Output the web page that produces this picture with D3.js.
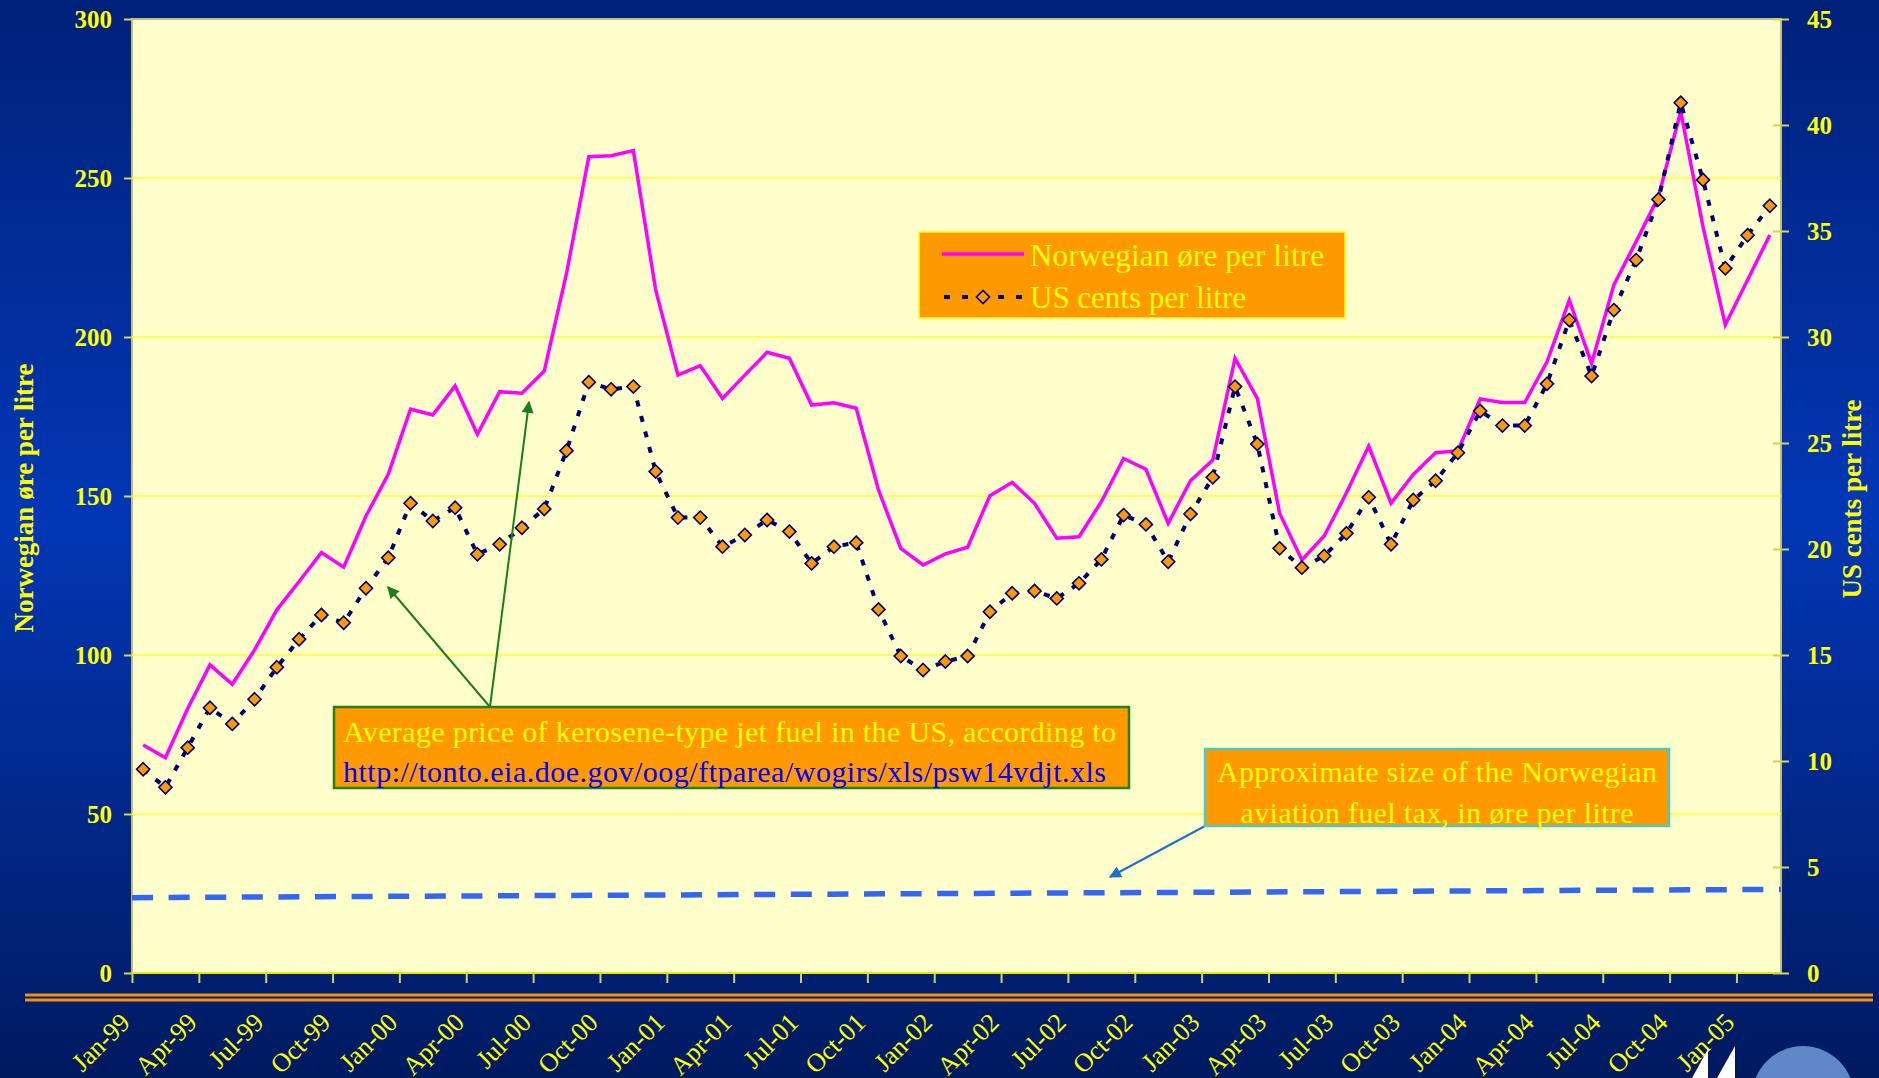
<!DOCTYPE html>
<meta charset = "utf-8">
<html>
  <head>
    <title>Jet fuel prices</title>
    <style>
      body { margin: 0; background: #001b62; }
      svg { display: block; }
      text { font-family: "Liberation Serif", "Times New Roman", serif; }
    </style>
  </head>
  <body>
    <script src="https://d3js.org/d3.v7.min.js"></script>
  <script>

  /*
      Data (monthly, Jan-99 .. Feb-05)
  */
  var months = [
    "Jan-99","Feb-99","Mar-99","Apr-99","May-99","Jun-99","Jul-99","Aug-99","Sep-99","Oct-99","Nov-99","Dec-99",
    "Jan-00","Feb-00","Mar-00","Apr-00","May-00","Jun-00","Jul-00","Aug-00","Sep-00","Oct-00","Nov-00","Dec-00",
    "Jan-01","Feb-01","Mar-01","Apr-01","May-01","Jun-01","Jul-01","Aug-01","Sep-01","Oct-01","Nov-01","Dec-01",
    "Jan-02","Feb-02","Mar-02","Apr-02","May-02","Jun-02","Jul-02","Aug-02","Sep-02","Oct-02","Nov-02","Dec-02",
    "Jan-03","Feb-03","Mar-03","Apr-03","May-03","Jun-03","Jul-03","Aug-03","Sep-03","Oct-03","Nov-03","Dec-03",
    "Jan-04","Feb-04","Mar-04","Apr-04","May-04","Jun-04","Jul-04","Aug-04","Sep-04","Oct-04","Nov-04","Dec-04",
    "Jan-05","Feb-05"];

  // Norwegian øre per litre (left axis)
  var norwegian = [
    71.7, 67.7, 83.2, 96.9, 90.8, 101.6, 114.2, 123.1, 132.2, 127.6, 143.7, 156.8,
    177.3, 175.5, 184.6, 169.4, 182.8, 182.3, 189.3, 220.0, 256.7, 257.0, 258.6, 214.8,
    188.0, 191.0, 180.7, 188.0, 195.2, 193.3, 178.6, 179.3, 177.6, 151.9, 133.5, 128.3,
    131.8, 133.9, 150.1, 154.3, 147.7, 136.7, 137.2, 148.2, 161.8, 158.4, 141.4, 154.8,
    161.3, 193.3, 180.7, 144.6, 129.9, 137.4, 151.0, 165.7, 147.7, 156.8, 163.6, 164.2,
    180.5, 179.4, 179.4, 192.2, 211.6, 191.7, 216.4, 230.0, 244.1, 270.9, 234.7, 203.8,
    217.9, 232.1];

  // US cents per litre (right axis)
  var usCents = [
    9.61, 8.76, 10.63, 12.51, 11.75, 12.91, 14.42, 15.74, 16.89, 16.52, 18.15, 19.59,
    22.16, 21.32, 21.95, 19.75, 20.22, 21.00, 21.89, 24.64, 27.87, 27.53, 27.66, 23.65,
    21.48, 21.48, 20.11, 20.66, 21.37, 20.82, 19.32, 20.11, 20.30, 17.15, 14.95, 14.29,
    14.69, 14.95, 17.04, 17.91, 18.02, 17.67, 18.38, 19.51, 21.60, 21.16, 19.40, 21.65,
    23.38, 27.66, 24.95, 20.03, 19.12, 19.67, 20.74, 22.44, 20.22, 22.31, 23.22, 24.54,
    26.51, 25.82, 25.82, 27.79, 30.80, 28.16, 31.27, 33.63, 36.49, 41.05, 37.41, 33.24,
    34.80, 36.19];

  // approximate Norwegian aviation fuel tax, øre per litre (start / end of period)
  var taxEnds = [23.7, 26.3];

  var leftTicks = [0, 50, 100, 150, 200, 250, 300];
  var rightTicks = [0, 5, 10, 15, 20, 25, 30, 35, 40, 45];
  var tickLabels = ["Jan-99","Apr-99","Jul-99","Oct-99","Jan-00","Apr-00","Jul-00","Oct-00",
    "Jan-01","Apr-01","Jul-01","Oct-01","Jan-02","Apr-02","Jul-02","Oct-02","Jan-03","Apr-03",
    "Jul-03","Oct-03","Jan-04","Apr-04","Jul-04","Oct-04","Jan-05"];

  var width = 1879, height = 1078;
  var pLeft = 132, pRight = 1781, pTop = 19, pBottom = 973;

  var svg = d3.select("body").append("svg")
      .attr("width", width)
      .attr("height", height);

  var defs = svg.append("defs");
  var bg = defs.append("linearGradient")
      .attr("id", "bg")
      .attr("x1", "0%").attr("y1", "0%")
      .attr("x2", "0%").attr("y2", "100%");
  bg.append("stop").attr("offset", "0%").attr("stop-color", "#00217a");
  bg.append("stop").attr("offset", "48%").attr("stop-color", "#0337b6");
  bg.append("stop").attr("offset", "100%").attr("stop-color", "#001a60");

  function arrowMarker(id, color) {
    defs.append("marker")
        .attr("id", id)
        .attr("viewBox", "0 0 10 10")
        .attr("refX", 9).attr("refY", 5)
        .attr("markerUnits", "userSpaceOnUse")
        .attr("orient", "auto")
        .attr("markerWidth", 16).attr("markerHeight", 12)
      .append("path")
        .attr("d", "M0,0 L10,5 L0,10 Z")
        .attr("fill", color);
  }
  arrowMarker("arrowGreen", "#1c7d1c");
  arrowMarker("arrowBlue", "#1a72cc");

  svg.append("rect")
      .attr("width", width).attr("height", height)
      .attr("fill", "url(#bg)");

  /*
      Scales
  */
  var x = d3.scaleBand().domain(months).range([pLeft, pRight]);
  var xi = d3.scaleLinear().domain([0, months.length]).range([pLeft, pRight]);
  var yL = d3.scaleLinear().domain([0, 300]).range([pBottom, pTop]);
  var yR = d3.scaleLinear().domain([0, 45]).range([pBottom, pTop]);
  function cx(i) { return x(months[i]) + x.bandwidth() / 2; }

  // plot area
  svg.append("rect")
      .attr("x", pLeft).attr("y", pTop)
      .attr("width", pRight - pLeft).attr("height", pBottom - pTop)
      .attr("fill", "#ffffcc")
      .attr("stroke", "#bdbd86")
      .attr("stroke-width", 2);

  // gridlines
  svg.append("g").selectAll("line")
      .data(leftTicks.filter(function(d){ return d > 0 && d < 300; }))
    .enter().append("line")
      .attr("x1", pLeft).attr("x2", pRight)
      .attr("y1", function(d){ return yL(d); })
      .attr("y2", function(d){ return yL(d); })
      .attr("stroke", "#ffff33")
      .attr("stroke-width", 1.6);

  // x baseline
  svg.append("line")
      .attr("x1", pLeft).attr("x2", pRight)
      .attr("y1", pBottom).attr("y2", pBottom)
      .attr("stroke", "#e8e800").attr("stroke-width", 2);

  /*
      Axes
  */
  var yAxisL = svg.append("g")
      .attr("transform", "translate(" + pLeft + ",0)")
      .call(d3.axisLeft(yL).tickValues(leftTicks).tickSize(8).tickPadding(12));
  var yAxisR = svg.append("g")
      .attr("transform", "translate(" + pRight + ",0)")
      .call(d3.axisRight(yR).tickValues(rightTicks).tickSize(8).tickPadding(18));
  yAxisR.selectAll(".tick line").attr("x1", -8);

  [yAxisL, yAxisR].forEach(function(a){
    a.select(".domain").remove();
    a.selectAll(".tick line").attr("stroke", "#d4d45a").attr("stroke-width", 2);
    a.selectAll(".tick text")
      .attr("fill", "#ffff00")
      .style("font-size", "25px")
      .style("font-weight", "bold")
      .style("font-family", "'Liberation Serif', 'Times New Roman', serif");
  });

  var xAxis = svg.append("g")
      .attr("transform", "translate(0," + pBottom + ")")
      .call(d3.axisBottom(xi)
        .tickValues(d3.range(0, months.length, 3))
        .tickFormat(function(d){ return tickLabels[d / 3]; })
        .tickSize(10));
  xAxis.select(".domain").remove();
  xAxis.selectAll(".tick line").attr("stroke", "#d4d45a").attr("stroke-width", 2);
  xAxis.selectAll(".tick text")
      .attr("x", 0).attr("y", 0).attr("dy", 0)
      .attr("transform", "translate(-1,51) rotate(-45)")
      .style("text-anchor", "end")
      .attr("fill", "#ffff00")
      .style("font-size", "26px")
      .style("font-family", "'Liberation Serif', 'Times New Roman', serif");

  // orange double rule
  [995, 1000].forEach(function(yy){
    svg.append("line")
        .attr("x1", 25).attr("x2", 1873)
        .attr("y1", yy).attr("y2", yy)
        .attr("stroke", "#f7900f").attr("stroke-width", 3);
  });

  // axis titles
  svg.append("text")
      .attr("transform", "translate(33,498) rotate(-90)")
      .attr("text-anchor", "middle")
      .attr("fill", "#ffff00")
      .style("font-size", "27px").style("font-weight", "bold")
      .text("Norwegian øre per litre");
  svg.append("text")
      .attr("transform", "translate(1861,499) rotate(-90)")
      .attr("text-anchor", "middle")
      .attr("fill", "#ffff00")
      .style("font-size", "27px").style("font-weight", "bold")
      .text("US cents per litre");

  /*
      Series
  */
  // tax line across the whole plot
  svg.append("line")
      .attr("x1", xi(0)).attr("x2", xi(months.length))
      .attr("y1", yL(taxEnds[0])).attr("y2", yL(taxEnds[1]))
      .attr("stroke", "#3366f5")
      .attr("stroke-width", 5.5)
      .attr("stroke-dasharray", "21,15.6");

  var lineL = d3.line()
      .x(function(d, i){ return cx(i); })
      .y(function(d){ return yL(d); });
  var lineR = d3.line()
      .x(function(d, i){ return cx(i); })
      .y(function(d){ return yR(d); });

  svg.append("path")
      .datum(norwegian)
      .attr("d", lineL)
      .attr("fill", "none")
      .attr("stroke", "#ff00ff")
      .attr("stroke-width", 3.5)
      .attr("stroke-linejoin", "miter");

  svg.append("path")
      .datum(usCents)
      .attr("d", lineR)
      .attr("fill", "none")
      .attr("stroke", "#000070")
      .attr("stroke-width", 4)
      .attr("stroke-dasharray", "6,10");

  var diamond = d3.symbol().type(d3.symbolDiamond2).size(110);
  svg.append("g").selectAll("path")
      .data(usCents)
    .enter().append("path")
      .attr("d", diamond)
      .attr("transform", function(d, i){ return "translate(" + cx(i) + "," + yR(d) + ")"; })
      .attr("fill", "#ff9900")
      .attr("stroke", "#00006e")
      .attr("stroke-width", 1.6);

  /*
      Legend
  */
  var lg = svg.append("g");
  lg.append("rect")
      .attr("x", 919).attr("y", 232).attr("width", 426).attr("height", 86)
      .attr("fill", "#ff9900").attr("stroke", "#ffff00").attr("stroke-width", 1.5);
  lg.append("line")
      .attr("x1", 942).attr("x2", 1024).attr("y1", 254).attr("y2", 254)
      .attr("stroke", "#ff00ff").attr("stroke-width", 3.5);
  lg.append("line")
      .attr("x1", 944).attr("x2", 1024).attr("y1", 297).attr("y2", 297)
      .attr("stroke", "#000070").attr("stroke-width", 4)
      .attr("stroke-dasharray", "6,12");
  lg.append("path")
      .attr("d", diamond)
      .attr("transform", "translate(983,297)")
      .attr("fill", "#ff9900").attr("stroke", "#00006e").attr("stroke-width", 1.6);
  lg.append("text").attr("x", 1030).attr("y", 266)
      .attr("fill", "#ffff00").style("font-size", "31px")
      .attr("textLength", 294)
      .text("Norwegian øre per litre");
  lg.append("text").attr("x", 1030).attr("y", 308)
      .attr("fill", "#ffff00").style("font-size", "31px")
      .attr("textLength", 216)
      .text("US cents per litre");

  /*
      Annotations
  */
  svg.append("line")
      .attr("x1", 490).attr("y1", 707).attr("x2", 388).attr("y2", 587)
      .attr("stroke", "#1c7d1c").attr("stroke-width", 2)
      .attr("marker-end", "url(#arrowGreen)");
  svg.append("line")
      .attr("x1", 490).attr("y1", 707).attr("x2", 529).attr("y2", 402)
      .attr("stroke", "#1c7d1c").attr("stroke-width", 2)
      .attr("marker-end", "url(#arrowGreen)");

  svg.append("rect")
      .attr("x", 334).attr("y", 707).attr("width", 795).attr("height", 81)
      .attr("fill", "#ff9900").attr("stroke", "#22831a").attr("stroke-width", 2.5);
  svg.append("text").attr("x", 343).attr("y", 742)
      .attr("fill", "#ffff00").style("font-size", "30px")
      .attr("textLength", 773)
      .text("Average price of kerosene-type jet fuel in the US, according to");
  svg.append("text").attr("x", 343).attr("y", 782)
      .attr("fill", "#0000ff").style("font-size", "30px")
      .attr("textLength", 763)
      .text("http://tonto.eia.doe.gov/oog/ftparea/wogirs/xls/psw14vdjt.xls");

  svg.append("line")
      .attr("x1", 1205).attr("y1", 826).attr("x2", 1110).attr("y2", 877)
      .attr("stroke", "#1a72cc").attr("stroke-width", 2)
      .attr("marker-end", "url(#arrowBlue)");
  svg.append("rect")
      .attr("x", 1205).attr("y", 749).attr("width", 464).attr("height", 77)
      .attr("fill", "#ff9900").attr("stroke", "#4cc6c6").attr("stroke-width", 2.5);
  svg.append("text").attr("x", 1437).attr("y", 782)
      .attr("text-anchor", "middle")
      .attr("fill", "#ffff00").style("font-size", "30px")
      .attr("textLength", 440)
      .text("Approximate size of the Norwegian");
  svg.append("text").attr("x", 1437).attr("y", 823)
      .attr("text-anchor", "middle")
      .attr("fill", "#ffff00").style("font-size", "30px")
      .attr("textLength", 393)
      .text("aviation fuel tax, in øre per litre");

  // slide logo bits, bottom right
  svg.append("circle")
      .attr("cx", 1803).attr("cy", 1097).attr("r", 51)
      .attr("fill", "#5f87c9");
  svg.append("path")
      .attr("d", "M1692,1078 L1708,1049 L1708,1078 Z M1717,1078 L1735,1046 L1735,1078 Z")
      .attr("fill", "#ffffff");

  </script>
  </body>
</html>
